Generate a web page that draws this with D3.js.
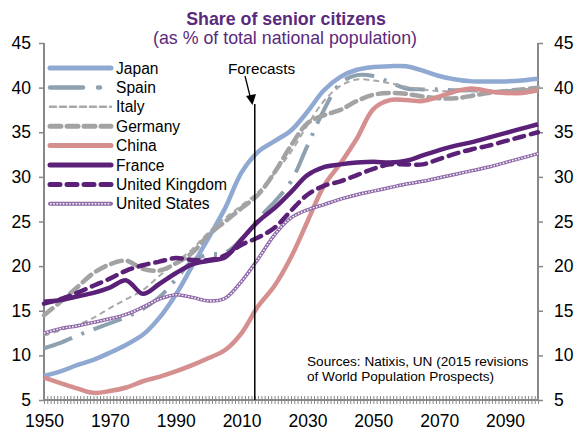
<!DOCTYPE html>
<html><head><meta charset="utf-8">
<script src="https://cdn.jsdelivr.net/npm/d3@7"></script>
<style>body{margin:0;background:#fff;} svg{display:block;font-family:"Liberation Sans",Arial,sans-serif;}</style>
</head><body>
<svg id="c" width="581" height="439"></svg>
<script>
const years = [1950,1955,1960,1965,1970,1975,1980,1985,1990,1995,2000,2005,2010,2015,2020,2025,2030,2035,2040,2045,2050,2055,2060,2065,2070,2075,2080,2085,2090,2095,2100];
const japan   = [7.7,8.2,8.9,9.5,10.3,11.2,12.3,14.2,16.8,20.0,23.2,26.5,30.5,32.8,34.0,35.2,37.3,39.7,41.2,42.0,42.3,42.4,42.4,41.9,41.3,40.9,40.7,40.7,40.7,40.8,41.0];
const spain   = [10.8,11.4,12.2,12.9,13.6,14.3,15.2,16.5,18.5,20.6,21.3,21.5,23.0,25.3,27.2,29.5,33.5,37.5,40.5,41.4,41.3,40.6,39.9,39.8,39.8,39.7,39.7,39.6,39.6,39.7,39.8];
const italy   = [12.2,12.8,13.4,14.2,15.3,16.3,17.3,18.9,20.4,21.9,23.8,25.4,26.8,28.3,30.4,32.8,35.8,38.5,40.2,40.9,40.8,40.5,40.1,39.8,39.6,39.6,39.6,39.6,39.7,39.8,39.9];
const germany = [14.5,16.0,17.6,19.2,20.2,20.6,19.7,19.5,20.3,21.5,23.5,25.0,26.5,28.0,30.5,33.5,36.0,36.9,37.5,38.5,39.2,39.4,39.3,39.0,38.8,38.8,39.1,39.4,39.6,39.8,40.0];
const china   = [7.5,6.9,6.3,5.8,6.0,6.4,7.1,7.6,8.2,8.9,9.7,10.6,12.5,15.5,17.8,21.0,25.0,29.0,31.5,34.3,37.6,38.6,38.6,38.5,39.0,39.6,39.9,39.6,39.4,39.4,39.7];
const france  = [16.0,16.2,16.6,17.0,17.6,18.4,16.9,18.0,19.2,20.2,20.6,21.0,23.0,25.0,26.5,28.3,30.2,31.1,31.4,31.6,31.7,31.6,31.8,32.4,33.0,33.5,33.9,34.4,34.9,35.4,35.9];
const uk      = [15.8,16.3,17.0,17.8,18.6,19.5,20.1,20.5,20.9,20.7,20.7,21.2,22.4,23.2,24.3,26.2,28.0,29.0,29.5,30.2,30.9,31.4,31.4,31.4,32.0,32.6,33.1,33.5,34.0,34.5,35.0];
const usa     = [12.5,13.0,13.3,13.7,14.1,14.6,15.4,16.3,16.8,16.5,16.1,16.4,18.3,20.8,23.5,25.4,26.3,26.9,27.5,28.0,28.4,28.8,29.2,29.5,29.9,30.3,30.7,31.1,31.6,32.1,32.6];
const seriesNames = ["Japan","Spain","Italy","Germany","China","France","United Kingdom","United States"];
const yTicks = [5,10,15,20,25,30,35,40,45];
const xTicks = [1950,1970,1990,2010,2030,2050,2070,2090];
const forecastYear = 2014;

const styles = {
  "Japan":{c:"#8fa9d2",w:4.5,d:null},
  "Spain":{c:"#8ea1b1",w:4,d:"30,10,3,10"},
  "Italy":{c:"#a8a8a8",w:2,d:"6,4"},
  "Germany":{c:"#a3a3a3",w:4.5,d:"11,6",cap:"round"},
  "China":{c:"#d58f8f",w:4.5,d:null},
  "France":{c:"#5b2077",w:4.5,d:null},
  "United Kingdom":{c:"#5b2077",w:4.5,d:"10,7",cap:"round"},
  "United States":{c:"#8f6aa9",w:3.5,d:null,pattern:true}
};
const values = [japan,spain,italy,germany,china,france,uk,usa];

const svg = d3.select("#c");
const x = d3.scaleLinear().domain([1950,2100]).range([44,538]);
const y = d3.scaleLinear().domain([5,45]).range([400,43]);
const grey = "#888";

// axes
const gL = svg.append("g").attr("transform","translate(44,0)")
  .call(d3.axisLeft(y).tickValues(yTicks).tickSize(5).tickPadding(8));
const gR = svg.append("g").attr("transform","translate(538,0)")
  .call(d3.axisRight(y).tickValues(yTicks).tickSize(5).tickPadding(11));
[gL,gR].forEach(g=>{
  g.select(".domain").attr("stroke",grey).attr("stroke-width",2).attr("d",`M0,${y(5)}V${y(45)}`);
  g.selectAll(".tick line").attr("stroke",grey).attr("stroke-width",1.5);
  g.selectAll(".tick text").attr("font-size",17.5).attr("fill","#000").attr("font-family","Liberation Sans, Arial, sans-serif");
});
// x axis minor ticks every year
const minor = d3.range(1950,2101,1);
const gX = svg.append("g").attr("transform",`translate(0,${y(5)})`)
  .call(d3.axisBottom(x).tickValues(minor).tickSize(4).tickFormat(""));
gX.select(".domain").attr("stroke",grey).attr("stroke-width",2).attr("d",`M${x(1950)},0H${x(2100)}`);
gX.selectAll(".tick line").attr("stroke",grey).attr("stroke-width",1).attr("y1",-4).attr("y2",4);
const gX2 = svg.append("g").attr("transform",`translate(0,${y(5)})`)
  .call(d3.axisBottom(x).tickValues(xTicks).tickSize(0).tickPadding(15).tickFormat(d3.format("d")));
gX2.select(".domain").remove();
gX2.selectAll(".tick text").attr("font-size",17.5).attr("fill","#000").attr("font-family","Liberation Sans, Arial, sans-serif");

// lines
const line = d3.line().x((d,i)=>x(years[i])).y(d=>y(d)).curve(d3.curveCatmullRom.alpha(0.5));
const order = [0,1,2,3,4,7,6,5];
order.forEach(k=>{
  const name = seriesNames[k], s = styles[name];
  const p = svg.append("path").datum(values[k]).attr("d",line).attr("fill","none")
    .attr("stroke",s.c).attr("stroke-width",s.w).attr("stroke-linecap",s.cap||"butt").attr("stroke-linejoin","round");
  if(s.d) p.attr("stroke-dasharray",s.d);
  if(s.pattern){
    svg.append("path").datum(values[k]).attr("d",line).attr("fill","none")
      .attr("stroke","#fff").attr("stroke-width",1.4).attr("stroke-dasharray","1.6,1.6");
  }
});

// forecast marker
svg.append("line").attr("x1",x(forecastYear)).attr("x2",x(forecastYear)).attr("y1",104).attr("y2",y(5))
  .attr("stroke","#000").attr("stroke-width",1.5);
svg.append("line").attr("x1",245).attr("y1",76).attr("x2",250.5).attr("y2",98).attr("stroke","#000").attr("stroke-width",1.3);
svg.append("path").attr("d","M246,96 L256,94 L252.5,105 Z").attr("fill","#000");
svg.append("text").attr("x",228).attr("y",74).attr("font-size",15.3).attr("fill","#000").text("Forecasts");

// title
svg.append("text").attr("x",286).attr("y",25).attr("text-anchor","middle").attr("font-size",17.8)
  .attr("font-weight","bold").attr("fill","#5b2a7c").text("Share of senior citizens");
svg.append("text").attr("x",285).attr("y",44).attr("text-anchor","middle").attr("font-size",17.8)
  .attr("fill","#5b2a7c").text("(as % of total national population)");

// legend
const leg = svg.append("g");
seriesNames.forEach((name,i)=>{
  const s = styles[name], yy = 68 + i*19.4;
  const l = leg.append("line").attr("x1",50).attr("x2",111).attr("y1",yy).attr("y2",yy)
    .attr("stroke",s.c).attr("stroke-width",s.w+0.5).attr("stroke-linecap",s.cap||"round");
  if(name==="Spain") l.attr("stroke-dasharray","33,15,2,15").attr("stroke-linecap","round");
  else if(s.d) l.attr("stroke-dasharray",s.d);
  if(s.pattern){
    leg.append("line").attr("x1",50).attr("x2",111).attr("y1",yy).attr("y2",yy)
      .attr("stroke","#fff").attr("stroke-width",1.4).attr("stroke-dasharray","1.6,1.6");
  }
  leg.append("text").attr("x",116).attr("y",yy+5.5).attr("font-size",15.6).attr("fill","#000").text(name);
});

// sources
const src = svg.append("text").attr("x",307).attr("y",366).attr("font-size",13.6).attr("fill","#000");
src.append("tspan").attr("x",307).text("Sources: Natixis, UN (2015 revisions");
src.append("tspan").attr("x",307).attr("dy",15).text("of World Population Prospects)");
</script>
</body></html>
